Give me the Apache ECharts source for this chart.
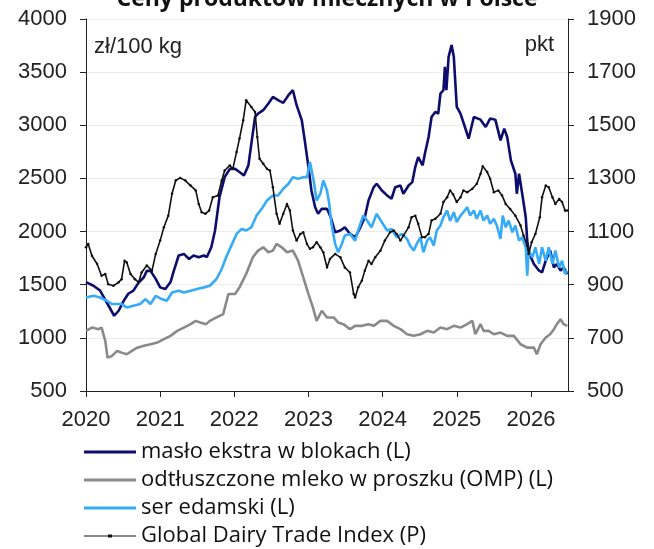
<!DOCTYPE html>
<html>
<head>
<meta charset="utf-8">
<script src="https://cdn.jsdelivr.net/npm/echarts@6/dist/echarts.min.js"></script>
<style>
  html, body { margin: 0; padding: 0; background: #fff; }
  #chart { width: 654px; height: 549px; }
</style>
</head>
<body>
<div id="chart"></div>
<script>
// lata (ułamkowe) i wartości
var butterX = [2020.00,2020.10,2020.19,2020.38,2020.44,2020.51,2020.57,2020.64,2020.71,2020.78,2020.82,2020.87,2020.94,2021.00,2021.07,2021.14,2021.18,2021.25,2021.32,2021.39,2021.45,2021.52,2021.59,2021.63,2021.69,2021.74,2021.80,2021.87,2021.94,2022.01,2022.07,2022.13,2022.19,2022.23,2022.28,2022.32,2022.39,2022.46,2022.52,2022.59,2022.66,2022.73,2022.79,2022.84,2022.91,2022.95,2023.00,2023.04,2023.09,2023.13,2023.18,2023.25,2023.30,2023.36,2023.43,2023.49,2023.56,2023.63,2023.70,2023.76,2023.81,2023.88,2023.92,2023.99,2024.06,2024.12,2024.17,2024.24,2024.28,2024.35,2024.40,2024.44,2024.48,2024.54,2024.57,2024.62,2024.66,2024.71,2024.75,2024.78,2024.82,2024.84,2024.86,2024.89,2024.93,2024.96,2025.00,2025.05,2025.11,2025.16,2025.23,2025.32,2025.39,2025.45,2025.52,2025.59,2025.64,2025.68,2025.73,2025.79,2025.81,2025.84,2025.89,2025.93,2025.95,2025.97,2026.00,2026.04,2026.11,2026.15,2026.20,2026.26,2026.31,2026.35,2026.40,2026.44,2026.49];
var butterY = [1525,1490,1445,1208,1255,1350,1415,1445,1520,1570,1630,1630,1555,1475,1460,1525,1620,1775,1790,1742,1775,1758,1775,1760,1852,2010,2323,2512,2590,2590,2560,2528,2623,2827,3078,3110,3142,3205,3267,3236,3211,3283,3330,3189,3047,2858,2607,2387,2229,2167,2214,2214,2135,1993,2010,2040,1978,1946,2040,2135,2292,2418,2450,2387,2340,2309,2418,2434,2356,2434,2465,2607,2701,2623,2733,2890,3078,3126,3110,3299,3330,3550,3330,3644,3755,3644,3173,3110,2984,2874,3078,3053,2984,3063,3053,2858,2969,2890,2670,2544,2356,2544,2323,2135,1915,1821,1758,1695,1632,1616,1726,1821,1663,1695,1632,1663,1600];

var smpX = [2020.00,2020.08,2020.17,2020.21,2020.26,2020.29,2020.35,2020.42,2020.48,2020.55,2020.62,2020.69,2020.78,2020.87,2020.96,2021.05,2021.14,2021.23,2021.32,2021.41,2021.48,2021.54,2021.62,2021.67,2021.76,2021.85,2021.92,2022.01,2022.07,2022.16,2022.25,2022.32,2022.39,2022.46,2022.52,2022.57,2022.64,2022.71,2022.79,2022.86,2022.93,2023.00,2023.06,2023.11,2023.18,2023.25,2023.34,2023.40,2023.47,2023.56,2023.63,2023.72,2023.81,2023.88,2023.97,2024.06,2024.15,2024.24,2024.33,2024.42,2024.51,2024.60,2024.69,2024.78,2024.87,2024.96,2025.05,2025.14,2025.21,2025.25,2025.32,2025.36,2025.43,2025.50,2025.59,2025.68,2025.77,2025.86,2025.95,2026.04,2026.08,2026.13,2026.20,2026.26,2026.31,2026.35,2026.40,2026.44,2026.49];
var smpY = [1066,1097,1082,1097,972,814,830,877,861,846,877,908,925,940,956,988,1019,1066,1097,1129,1160,1145,1129,1160,1192,1224,1412,1412,1475,1601,1758,1821,1852,1805,1821,1884,1852,1805,1821,1726,1569,1412,1286,1160,1255,1192,1192,1145,1129,1082,1113,1113,1129,1113,1160,1160,1113,1082,1034,1019,1034,1066,1050,1097,1082,1113,1097,1129,1160,1034,1129,1066,1066,1034,1050,1019,1019,940,908,908,846,940,1003,1034,1082,1129,1176,1129,1113];

var cheeseX = [2020.00,2020.10,2020.19,2020.28,2020.35,2020.42,2020.48,2020.55,2020.64,2020.73,2020.80,2020.87,2020.94,2021.02,2021.09,2021.16,2021.25,2021.32,2021.41,2021.50,2021.59,2021.67,2021.76,2021.83,2021.89,2021.96,2022.03,2022.10,2022.16,2022.23,2022.30,2022.37,2022.44,2022.52,2022.59,2022.66,2022.73,2022.79,2022.86,2022.93,2022.98,2023.02,2023.07,2023.11,2023.16,2023.20,2023.25,2023.28,2023.31,2023.36,2023.40,2023.45,2023.49,2023.56,2023.63,2023.67,2023.74,2023.79,2023.85,2023.92,2023.99,2024.06,2024.12,2024.19,2024.26,2024.33,2024.37,2024.42,2024.46,2024.51,2024.55,2024.60,2024.64,2024.69,2024.73,2024.78,2024.82,2024.87,2024.91,2024.96,2025.00,2025.05,2025.09,2025.14,2025.18,2025.23,2025.27,2025.32,2025.36,2025.41,2025.45,2025.50,2025.54,2025.59,2025.62,2025.66,2025.70,2025.75,2025.79,2025.84,2025.88,2025.93,2025.95,2025.97,2026.02,2026.06,2026.11,2026.15,2026.20,2026.24,2026.29,2026.33,2026.38,2026.42,2026.46,2026.49];
var cheeseY = [1380,1396,1380,1349,1318,1318,1318,1286,1302,1318,1365,1318,1396,1365,1349,1427,1443,1427,1443,1459,1475,1490,1554,1648,1758,1868,1978,2025,2010,2040,2151,2214,2292,2340,2340,2403,2450,2512,2497,2512,2512,2654,2481,2292,2356,2481,2387,2261,2073,1884,1805,1884,1962,1978,1915,2010,2151,2104,2040,2167,2088,2010,2025,1946,1978,1931,1868,1821,1884,1946,1805,1915,1946,1868,2010,2057,2135,2198,2100,2182,2088,2151,2182,2229,2151,2198,2120,2198,2104,2151,2073,2120,2057,1931,2151,2040,2104,1993,2057,1915,1946,1852,1585,1821,1758,1852,1695,1852,1726,1852,1695,1821,1663,1726,1600,1632];

var gdtX = [2020.00,2020.03,2020.08,2020.15,2020.21,2020.26,2020.30,2020.37,2020.44,2020.48,2020.52,2020.55,2020.60,2020.66,2020.71,2020.75,2020.82,2020.89,2020.94,2021.00,2021.05,2021.11,2021.16,2021.21,2021.27,2021.34,2021.41,2021.48,2021.52,2021.56,2021.61,2021.66,2021.71,2021.78,2021.83,2021.87,2021.94,2021.98,2022.03,2022.07,2022.12,2022.16,2022.23,2022.28,2022.31,2022.34,2022.39,2022.44,2022.48,2022.52,2022.57,2022.61,2022.66,2022.71,2022.75,2022.79,2022.84,2022.89,2022.93,2022.98,2023.02,2023.06,2023.11,2023.16,2023.20,2023.25,2023.29,2023.36,2023.43,2023.49,2023.56,2023.61,2023.63,2023.67,2023.72,2023.76,2023.81,2023.85,2023.90,2023.97,2024.03,2024.10,2024.15,2024.19,2024.24,2024.28,2024.35,2024.39,2024.44,2024.48,2024.53,2024.57,2024.62,2024.66,2024.71,2024.78,2024.82,2024.87,2024.91,2024.95,2025.00,2025.05,2025.09,2025.14,2025.21,2025.27,2025.32,2025.35,2025.41,2025.45,2025.50,2025.56,2025.61,2025.66,2025.72,2025.79,2025.86,2025.90,2025.95,2025.97,2026.01,2026.06,2026.12,2026.15,2026.20,2026.24,2026.29,2026.33,2026.38,2026.42,2026.46,2026.49];
var gdtY = [1041,1053,1009,978,934,940,902,896,909,921,990,984,940,921,909,946,972,953,1016,1066,1116,1160,1242,1292,1302,1292,1273,1255,1204,1173,1167,1179,1229,1236,1292,1330,1349,1336,1399,1450,1519,1594,1569,1550,1456,1374,1355,1336,1330,1267,1167,1129,1167,1204,1179,1104,1066,1091,1097,1053,1035,1041,1060,1041,1022,965,997,1016,1003,965,946,865,852,890,915,953,990,978,1003,1028,1066,1097,1104,1091,1066,1085,1116,1154,1160,1129,1079,1079,1091,1142,1148,1167,1211,1229,1255,1240,1211,1229,1255,1248,1261,1280,1317,1346,1324,1299,1248,1255,1236,1204,1185,1160,1123,1085,1047,1016,1060,1091,1154,1229,1273,1267,1229,1204,1223,1211,1179,1179];

var seriesNames = ['masło ekstra w blokach (L)', 'odtłuszczone mleko w proszku (OMP) (L)', 'ser edamski (L)', 'Global Dairy Trade Index (P)'];
var leftTicks = [500, 1000, 1500, 2000, 2500, 3000, 3500, 4000];
var rightTicks = [500, 700, 900, 1100, 1300, 1500, 1700, 1900];

function pairs(xs, ys) {
    var out = [];
    for (var i = 0; i < xs.length; i++) {
        out.push([xs[i], ys[i]]);
    }
    return out;
}

var axisFont = '"Liberation Sans", Arial, sans-serif';
var textFont = '"Open Sans", "Noto Sans", sans-serif';
var chart = echarts.init(document.getElementById('chart'), null, {renderer: 'canvas'});

// ikony legendy: kreska, dla GDT kreska z małym znacznikiem
var lineIcon = 'path://M0,0 H52 V3 H0 Z';
var gdtIcon = 'path://M0,1 H24 V0 H28 V1 H52 V2 H28 V3 H24 V2 H0 Z';

var option = {
    backgroundColor: '#fff',
    animation: false,
    title: {
        text: 'Ceny produktów mlecznych w Polsce',
        left: 'center',
        top: -17,
        textStyle: { fontSize: 23, fontWeight: 'bold', color: '#111', fontFamily: textFont }
    },
    grid: { left: 86, right: 86, top: 19, bottom: 158, containLabel: false },
    graphic: [
        { type: 'text', left: 94, top: 36, style: { text: 'zł/100 kg', fontSize: 22, fill: '#222', fontFamily: axisFont } },
        { type: 'text', right: 100, top: 34, style: { text: 'pkt', fontSize: 22, fill: '#222', fontFamily: axisFont } }
    ],
    legend: {
        orient: 'vertical',
        left: 84,
        top: 441,
        height: 140,
        padding: 0,
        itemWidth: 52,
        itemHeight: 3,
        itemGap: 6,
        textStyle: { fontSize: 22, color: '#111', fontFamily: textFont, lineHeight: 22 },
        data: [
            { name: seriesNames[0], icon: lineIcon },
            { name: seriesNames[1], icon: lineIcon },
            { name: seriesNames[2], icon: lineIcon },
            { name: seriesNames[3], icon: gdtIcon }
        ]
    },
    xAxis: {
        type: 'value',
        min: 2020,
        max: 2026.5,
        interval: 1,
        axisLine: { lineStyle: { color: '#222', width: 1 } },
        axisTick: { show: true, length: 6, lineStyle: { color: '#222' } },
        axisLabel: {
            fontSize: 22, color: '#222', margin: 18, showMaxLabel: false, fontFamily: axisFont,
            formatter: function (v) { return Math.round(v) === v ? String(v) : ''; }
        },
        splitLine: { show: false }
    },
    yAxis: [
        {
            type: 'value',
            min: 500, max: 4000, interval: 500,
            axisLine: { show: true, lineStyle: { color: '#222' } },
            axisTick: { show: true, length: 6, lineStyle: { color: '#222' } },
            axisLabel: {
                fontSize: 22, color: '#222', margin: 19, fontFamily: axisFont, customValues: leftTicks,
                formatter: function (v) { return String(v); }
            },
            splitLine: { show: true, lineStyle: { color: '#ebebeb', width: 1 } }
        },
        {
            type: 'value',
            min: 500, max: 1900, interval: 200,
            position: 'right',
            axisLine: { show: true, lineStyle: { color: '#222' } },
            axisTick: { show: true, length: 6, lineStyle: { color: '#222' }, customValues: rightTicks },
            axisLabel: {
                fontSize: 22, color: '#222', margin: 19, fontFamily: axisFont, customValues: rightTicks,
                formatter: function (v) { return String(v); }
            },
            splitLine: { show: false }
        }
    ],
    series: [
        {
            name: seriesNames[0], type: 'line', yAxisIndex: 0, symbol: 'none',
            color: '#0d0d6e', lineStyle: { width: 2.6, color: '#0d0d6e' },
            data: pairs(butterX, butterY)
        },
        {
            name: seriesNames[1], type: 'line', yAxisIndex: 0, symbol: 'none',
            color: '#8a8a8a', lineStyle: { width: 2.6, color: '#8a8a8a' },
            data: pairs(smpX, smpY)
        },
        {
            name: seriesNames[2], type: 'line', yAxisIndex: 0, symbol: 'none',
            color: '#36abf7', lineStyle: { width: 2.6, color: '#36abf7' },
            data: pairs(cheeseX, cheeseY)
        },
        {
            name: seriesNames[3], type: 'line', yAxisIndex: 1,
            symbol: 'circle', symbolSize: 2.5, showSymbol: true,
            color: '#111', itemStyle: { color: '#111' },
            lineStyle: { width: 1.6, color: '#111' },
            data: pairs(gdtX, gdtY)
        }
    ]
};

chart.setOption(option);
window.addEventListener('resize', function () {
    chart.resize();
});
</script>
</body>
</html>
